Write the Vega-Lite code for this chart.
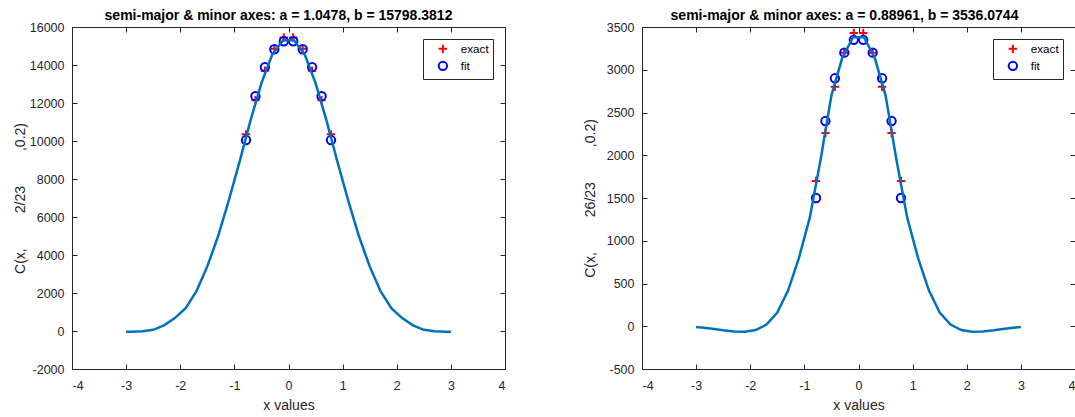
{
  "$schema": "https://vega.github.io/schema/vega-lite/v6.json",
  "padding": {"left": 12, "top": 8, "right": 0, "bottom": 0},
  "background": "white",
  "config": {
    "font": "Liberation Sans",
    "view": {"stroke": "#262626", "strokeWidth": 1},
    "axis": {
      "grid": false,
      "domainColor": "#262626",
      "tickColor": "#262626",
      "labelColor": "#262626",
      "titleColor": "#262626",
      "labelFontSize": 12.5,
      "titleFontSize": 14,
      "titleFontWeight": "normal",
      "tickSize": -5,
      "domain": true,
      "labelExpr": "'' + datum.value"
    },
    "axisX": {"labelPadding": 15, "titlePadding": 7},
    "axisY": {"labelPadding": 13},
    "title": {"fontSize": 14, "fontWeight": "bold", "color": "#000000", "offset": -2, "anchor": "middle", "dx": -10},
    "legend": {
      "orient": "top-right",
      "offset": 12,
      "strokeColor": "#262626",
      "fillColor": "white",
      "padding": 4,
      "symbolOffset": 10,
      "labelOffset": 12,
      "labelFontSize": 11.7,
      "labelColor": "#000000",
      "symbolStrokeWidth": 2,
      "symbolSize": 70,
      "rowPadding": -1
    }
  },
  "datasets": {
    "curveL": [
      {"x": -3.0, "y": -40}, {"x": -2.9, "y": -35}, {"x": -2.7, "y": -15}, {"x": -2.5, "y": 60},
      {"x": -2.3, "y": 300}, {"x": -2.1, "y": 680}, {"x": -1.9, "y": 1200}, {"x": -1.7, "y": 2100},
      {"x": -1.5, "y": 3400}, {"x": -1.3, "y": 5000}, {"x": -1.1, "y": 6900}, {"x": -0.9, "y": 8950},
      {"x": -0.7, "y": 11100}, {"x": -0.5, "y": 13050}, {"x": -0.3, "y": 14550}, {"x": -0.1, "y": 15300},
      {"x": 0.1, "y": 15300}, {"x": 0.3, "y": 14550}, {"x": 0.5, "y": 13050}, {"x": 0.7, "y": 11100},
      {"x": 0.9, "y": 8950}, {"x": 1.1, "y": 6900}, {"x": 1.3, "y": 5000}, {"x": 1.5, "y": 3400},
      {"x": 1.7, "y": 2100}, {"x": 1.9, "y": 1200}, {"x": 2.1, "y": 680}, {"x": 2.3, "y": 300},
      {"x": 2.5, "y": 60}, {"x": 2.7, "y": -15}, {"x": 2.9, "y": -35}, {"x": 3.0, "y": -40}
    ],
    "ptsL": [
      {"x": -0.785, "y": 10350, "series": "exact"}, {"x": -0.611, "y": 12150, "series": "exact"},
      {"x": -0.436, "y": 13700, "series": "exact"}, {"x": -0.262, "y": 14850, "series": "exact"},
      {"x": -0.087, "y": 15450, "series": "exact"}, {"x": 0.087, "y": 15450, "series": "exact"},
      {"x": 0.262, "y": 14850, "series": "exact"}, {"x": 0.436, "y": 13700, "series": "exact"},
      {"x": 0.611, "y": 12150, "series": "exact"}, {"x": 0.785, "y": 10350, "series": "exact"},
      {"x": -0.785, "y": 10050, "series": "fit"}, {"x": -0.611, "y": 12360, "series": "fit"},
      {"x": -0.436, "y": 13890, "series": "fit"}, {"x": -0.262, "y": 14830, "series": "fit"},
      {"x": -0.087, "y": 15250, "series": "fit"}, {"x": 0.087, "y": 15250, "series": "fit"},
      {"x": 0.262, "y": 14830, "series": "fit"}, {"x": 0.436, "y": 13890, "series": "fit"},
      {"x": 0.611, "y": 12360, "series": "fit"}, {"x": 0.785, "y": 10050, "series": "fit"}
    ],
    "curveR": [
      {"x": -3.0, "y": -10}, {"x": -2.9, "y": -15}, {"x": -2.7, "y": -30}, {"x": -2.5, "y": -48},
      {"x": -2.3, "y": -60}, {"x": -2.1, "y": -63}, {"x": -1.9, "y": -45}, {"x": -1.7, "y": 20},
      {"x": -1.5, "y": 160}, {"x": -1.3, "y": 420}, {"x": -1.1, "y": 800}, {"x": -0.9, "y": 1270},
      {"x": -0.7, "y": 1950}, {"x": -0.5, "y": 2700}, {"x": -0.3, "y": 3140}, {"x": -0.1, "y": 3380},
      {"x": 0.1, "y": 3380}, {"x": 0.3, "y": 3140}, {"x": 0.5, "y": 2700}, {"x": 0.7, "y": 1950},
      {"x": 0.9, "y": 1270}, {"x": 1.1, "y": 800}, {"x": 1.3, "y": 420}, {"x": 1.5, "y": 160},
      {"x": 1.7, "y": 20}, {"x": 1.9, "y": -45}, {"x": 2.1, "y": -63}, {"x": 2.3, "y": -60},
      {"x": 2.5, "y": -48}, {"x": 2.7, "y": -30}, {"x": 2.9, "y": -15}, {"x": 3.0, "y": -10}
    ],
    "ptsR": [
      {"x": -0.785, "y": 1700, "series": "exact"}, {"x": -0.611, "y": 2260, "series": "exact"},
      {"x": -0.436, "y": 2800, "series": "exact"}, {"x": -0.262, "y": 3200, "series": "exact"},
      {"x": -0.087, "y": 3430, "series": "exact"}, {"x": 0.087, "y": 3430, "series": "exact"},
      {"x": 0.262, "y": 3200, "series": "exact"}, {"x": 0.436, "y": 2800, "series": "exact"},
      {"x": 0.611, "y": 2260, "series": "exact"}, {"x": 0.785, "y": 1700, "series": "exact"},
      {"x": -0.785, "y": 1500, "series": "fit"}, {"x": -0.611, "y": 2400, "series": "fit"},
      {"x": -0.436, "y": 2900, "series": "fit"}, {"x": -0.262, "y": 3200, "series": "fit"},
      {"x": -0.087, "y": 3350, "series": "fit"}, {"x": 0.087, "y": 3350, "series": "fit"},
      {"x": 0.262, "y": 3200, "series": "fit"}, {"x": 0.436, "y": 2900, "series": "fit"},
      {"x": 0.611, "y": 2400, "series": "fit"}, {"x": 0.785, "y": 1500, "series": "fit"}
    ]
  },
  "bounds": "flush",
  "spacing": 137,
  "resolve": {
    "scale": {"x": "independent", "y": "independent", "color": "independent", "shape": "independent"},
    "legend": {"color": "independent", "shape": "independent"}
  },
  "hconcat": [
    {
      "width": 433,
      "height": 342,
      "title": {"text": "semi-major & minor axes: a = 1.0478, b = 15798.3812"},
      "resolve": {"axis": {"x": "independent", "y": "independent"}},
      "layer": [
        {
          "data": {"name": "ptsL"},
          "mark": {"type": "point", "filled": false, "strokeWidth": 2, "size": 70, "opacity": 1},
          "encoding": {
            "x": {"field": "x", "type": "quantitative", "scale": {"domain": [-4, 4], "nice": false},
                  "axis": {"orient": "bottom", "values": [-4, -3, -2, -1, 0, 1, 2, 3, 4], "title": "x values"}},
            "y": {"field": "y", "type": "quantitative", "scale": {"domain": [-2000, 16000], "nice": false},
                  "axis": {"orient": "left", "values": [-2000, 0, 2000, 4000, 6000, 8000, 10000, 12000, 14000, 16000], "titlePadding": 2,
                           "title": "C(x,\u00a0\u00a0\u00a0\u00a0\u00a0\u00a0\u00a0\u00a0\u00a02/23\u00a0\u00a0\u00a0\u00a0\u00a0\u00a0\u00a0\u00a0\u00a0,0.2)"}},
            "color": {"field": "series", "type": "nominal", "scale": {"domain": ["exact", "fit"], "range": ["#ff0000", "#0000ff"]}, "legend": {"title": null}},
            "shape": {"field": "series", "type": "nominal", "scale": {"domain": ["exact", "fit"], "range": ["M-1,0L1,0M0,-1L0,1", "circle"]}, "legend": {"title": null}}
          }
        },
        {
          "data": {"name": "curveL"},
          "mark": {"type": "line", "color": "#0072bd", "strokeWidth": 2.5},
          "encoding": {
            "x": {"field": "x", "type": "quantitative", "axis": null},
            "y": {"field": "y", "type": "quantitative", "axis": null}
          }
        },
        {
          "data": {"name": "curveL"},
          "mark": {"type": "point", "opacity": 0},
          "encoding": {
            "x": {"field": "x", "type": "quantitative", "axis": {"orient": "top", "labels": false, "title": null, "values": [-4, -3, -2, -1, 0, 1, 2, 3, 4]}},
            "y": {"field": "y", "type": "quantitative", "axis": {"orient": "right", "labels": false, "title": null, "values": [-2000, 0, 2000, 4000, 6000, 8000, 10000, 12000, 14000, 16000]}}
          }
        }
      ]
    },
    {
      "width": 433,
      "height": 342,
      "title": {"text": "semi-major & minor axes: a = 0.88961, b = 3536.0744", "dx": -14},
      "resolve": {"axis": {"x": "independent", "y": "independent"}},
      "layer": [
        {
          "data": {"name": "ptsR"},
          "mark": {"type": "point", "filled": false, "strokeWidth": 2, "size": 70, "opacity": 1},
          "encoding": {
            "x": {"field": "x", "type": "quantitative", "scale": {"domain": [-4, 4], "nice": false},
                  "axis": {"orient": "bottom", "values": [-4, -3, -2, -1, 0, 1, 2, 3, 4], "title": "x values"}},
            "y": {"field": "y", "type": "quantitative", "scale": {"domain": [-500, 3500], "nice": false},
                  "axis": {"orient": "left", "values": [-500, 0, 500, 1000, 1500, 2000, 2500, 3000, 3500], "titlePadding": 9,
                           "title": "C(x,\u00a0\u00a0\u00a0\u00a0\u00a0\u00a0\u00a0\u00a0\u00a026/23\u00a0\u00a0\u00a0\u00a0\u00a0\u00a0\u00a0\u00a0\u00a0,0.2)"}},
            "color": {"field": "series", "type": "nominal", "scale": {"domain": ["exact", "fit"], "range": ["#ff0000", "#0000ff"]}, "legend": {"title": null}},
            "shape": {"field": "series", "type": "nominal", "scale": {"domain": ["exact", "fit"], "range": ["M-1,0L1,0M0,-1L0,1", "circle"]}, "legend": {"title": null}}
          }
        },
        {
          "data": {"name": "curveR"},
          "mark": {"type": "line", "color": "#0072bd", "strokeWidth": 2.5},
          "encoding": {
            "x": {"field": "x", "type": "quantitative", "axis": null},
            "y": {"field": "y", "type": "quantitative", "axis": null}
          }
        },
        {
          "data": {"name": "curveR"},
          "mark": {"type": "point", "opacity": 0},
          "encoding": {
            "x": {"field": "x", "type": "quantitative", "axis": {"orient": "top", "labels": false, "title": null, "values": [-4, -3, -2, -1, 0, 1, 2, 3, 4]}},
            "y": {"field": "y", "type": "quantitative", "axis": {"orient": "right", "labels": false, "title": null, "values": [-500, 0, 500, 1000, 1500, 2000, 2500, 3000, 3500]}}
          }
        }
      ]
    }
  ]
}
